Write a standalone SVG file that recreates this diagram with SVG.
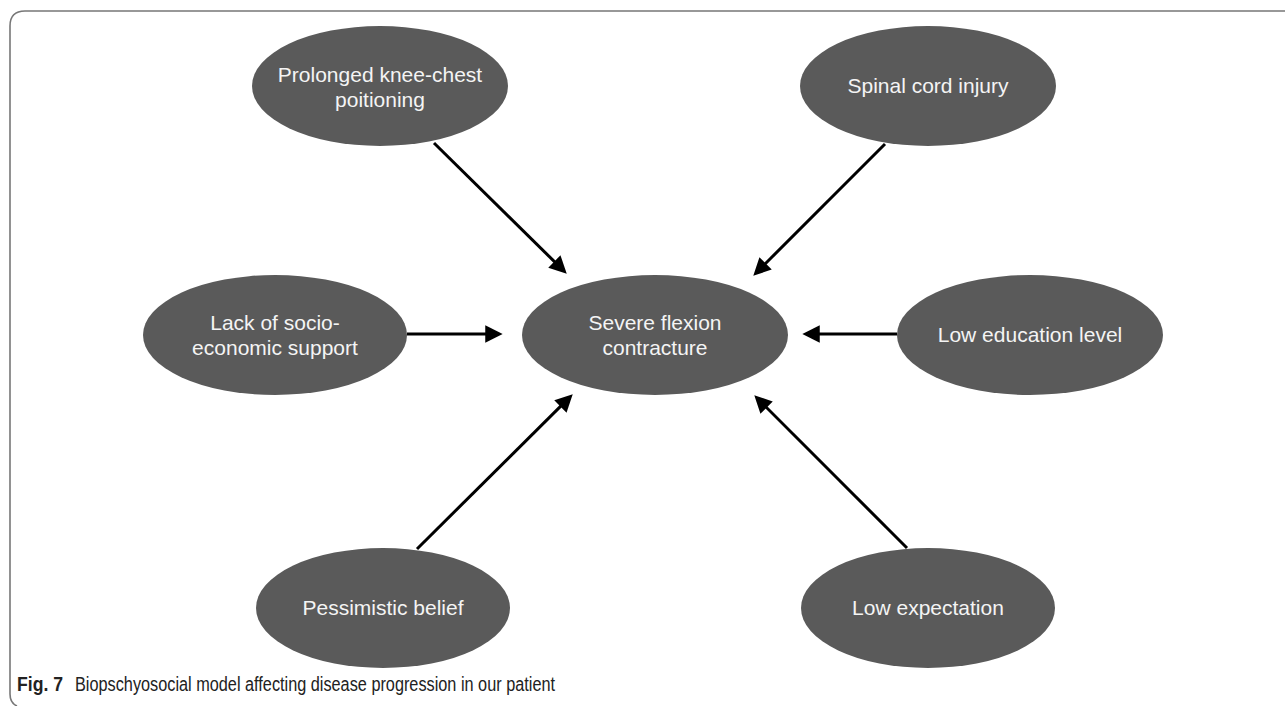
<svg xmlns="http://www.w3.org/2000/svg" width="1285" height="706" viewBox="0 0 1285 706">
<defs>
<style>
.node ellipse{fill:#5a5a5a;}
.node text{fill:#f4f4f4;font-family:"Liberation Sans",Arial,sans-serif;font-size:21px;text-anchor:middle;}
.conn line{stroke:#000;stroke-width:3;}
.cap{font-family:"Liberation Sans",Arial,sans-serif;font-size:20px;fill:#222;}
</style>
<marker id="ah" viewBox="0 0 10 10" refX="5.6" refY="5" markerWidth="6.2" markerHeight="5.8" orient="auto" markerUnits="strokeWidth">
<path d="M0,0 L10,5 L0,10 z" fill="#000"/>
</marker>
</defs>
<rect width="1285" height="706" fill="#fff"/>
<path d="M1285,11 H25 Q10,11 10,26 V694 Q10,703 17,706" fill="none" stroke="#777" stroke-width="1.6"/>
<g class="conn">
<line x1="434" y1="143" x2="561.3" y2="268.4" marker-end="url(#ah)"/>
<line x1="885" y1="144" x2="758.7" y2="270.3" marker-end="url(#ah)"/>
<line x1="407" y1="334" x2="495" y2="334" marker-end="url(#ah)"/>
<line x1="897" y1="334" x2="810" y2="334" marker-end="url(#ah)"/>
<line x1="417" y1="549" x2="567.3" y2="399.6" marker-end="url(#ah)"/>
<line x1="907" y1="548" x2="759.7" y2="400.7" marker-end="url(#ah)"/>
</g>
<g id="n-prolonged" class="node"><ellipse cx="380" cy="86" rx="128" ry="60"/><text x="380" y="82">Prolonged knee-chest</text><text x="380" y="107">poitioning</text></g>
<g id="n-spinal" class="node"><ellipse cx="928" cy="86" rx="128" ry="60"/><text x="928" y="93">Spinal cord injury</text></g>
<g id="n-lack" class="node"><ellipse cx="275" cy="335" rx="132" ry="60"/><text x="275" y="330">Lack of socio-</text><text x="275" y="355">economic support</text></g>
<g id="n-severe" class="node"><ellipse cx="655" cy="335" rx="133" ry="60"/><text x="655" y="330">Severe flexion</text><text x="655" y="355">contracture</text></g>
<g id="n-education" class="node"><ellipse cx="1030" cy="335" rx="133" ry="60"/><text x="1030" y="342">Low education level</text></g>
<g id="n-pessimistic" class="node"><ellipse cx="383" cy="608" rx="127" ry="60"/><text x="383" y="615">Pessimistic belief</text></g>
<g id="n-expectation" class="node"><ellipse cx="928" cy="608" rx="127" ry="60"/><text x="928" y="615">Low expectation</text></g>
<text class="cap" x="17" y="691" font-weight="bold" textLength="46" lengthAdjust="spacingAndGlyphs">Fig. 7</text>
<text class="cap" x="75" y="691" textLength="480" lengthAdjust="spacingAndGlyphs">Biopschyosocial model affecting disease progression in our patient</text>
</svg>
